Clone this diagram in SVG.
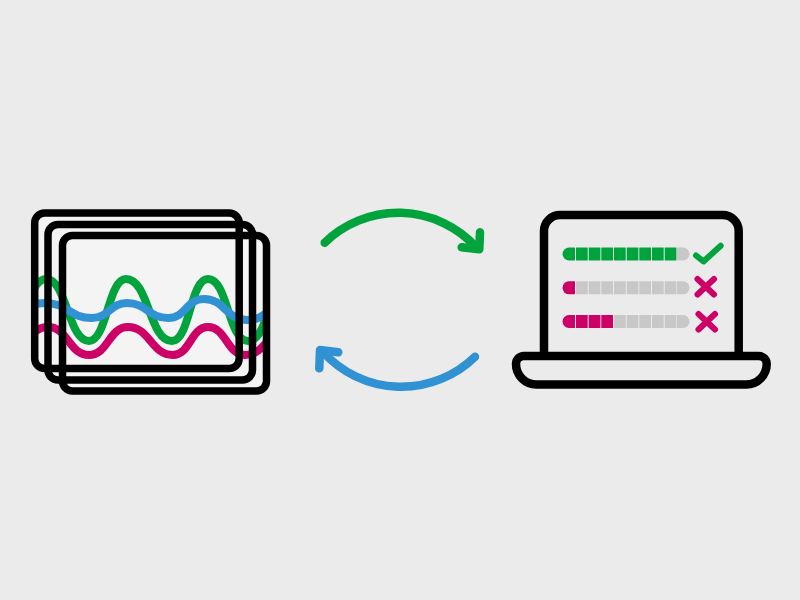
<svg xmlns="http://www.w3.org/2000/svg" width="800" height="600" viewBox="0 0 800 600">
<style>
.frame{fill:none;stroke:#000;stroke-width:7.5}
.panel{fill:#f4f4f4;stroke:none}
.wave{fill:none;stroke-width:8}
.g{stroke:#00a33c}.b{stroke:#3092d3}.m{stroke:#cc0066}
.fg{fill:#00a33c}.fm{fill:#cc0066}.fx{fill:#c8c8c8}
.mark{fill:none;stroke-width:6;stroke-linecap:round;stroke-linejoin:round}
.arrow{fill:none;stroke-width:8.5;stroke-linecap:round;stroke-linejoin:round}
.lap{fill:#ebebeb;stroke:#000;stroke-width:8.5;stroke-linejoin:round}
</style>
<defs>
<clipPath id="wclip"><rect x="38" y="230" width="225" height="150"/></clipPath>
<path id="cL" d="M569 0h6v13h-6a6.5 6.5 0 0 1 0-13z"/>
<path id="cR" d="M677 0h6a6.5 6.5 0 0 1 0 13h-6z"/>
<rect id="s" x="0" y="0" width="11.7" height="13"/>
</defs>
<rect width="800" height="600" fill="#ebebeb"/>
<g id="signals">
<rect class="panel" x="34.7" y="213" width="204.5" height="155.5" rx="10"/>
<rect class="panel" x="48" y="224.5" width="204.5" height="155.5" rx="10"/>
<rect class="panel" x="62.5" y="235.5" width="204" height="155.5" rx="10"/>
<g clip-path="url(#wclip)">
<path class="wave g" d="M5 341C25 341 26 279 46 279C67 279 68 341 89 341C107 341 108 279 126 279C149 279 149 341 172 341C190 341 190 279 208 279C228 279 228 341 248 341C269 341 269 279 290 279"/>
<path class="wave m" d="M5 355C26 355 27 327 48 327C68 327 69 355 89 355C108 355 109 327 128 327C150 327 151 355 173 355C190 355 191 327 208 327C226 327 227 355 245 355C267 355 268 327 290 327"/>
<path class="wave b" d="M0 318C22 318 23 303 45 303C68 303 69 318 92 318C109 318 110 303 127 303C147 303 148 318 168 318C186 318 186 299 204 299C225 299 226 320 247 320C268 320 269 303 290 303"/>
</g>
<rect class="frame" x="34.7" y="213" width="204.5" height="155.5" rx="10"/>
<rect class="frame" x="48" y="224.5" width="204.5" height="155.5" rx="10"/>
<rect class="frame" x="62.5" y="235.5" width="204" height="155.5" rx="10"/>
</g>
<g id="connectors">
<path class="arrow g" d="M324.7 242.7A105.500 105.500 0 0 1 476 247"/>
<path class="arrow g" d="M480 232.300L479.300 249.300L461.700 247.300"/>
<path class="arrow b" d="M475 356.700A105.400 105.400 0 0 1 323 352"/>
<path class="arrow b" d="M319.300 368.300L320 350L338.300 352.300"/>
</g>
<g id="laptop">
<path class="lap" d="M544 356V231a16 16 0 0 1 16-16H722.700a16 16 0 0 1 16 16V356"/>
<path class="lap" d="M524 356H758.700a8 8 0 0 1 8 8A20.400 20.400 0 0 1 746.300 384.400H536.400A20.400 20.400 0 0 1 516 364A8 8 0 0 1 524 356z"/>
<g id="bar1" transform="translate(0 247.500)">
<use href="#cL" class="fg"/>
<g class="fg"><use href="#s" x="576"/><use href="#s" x="588.700"/><use href="#s" x="601.300"/><use href="#s" x="614"/><use href="#s" x="626.700"/><use href="#s" x="639.300"/><use href="#s" x="652"/><use href="#s" x="664.700"/></g>
<use href="#cR" class="fx"/>
</g>
<g id="bar2" transform="translate(0 281.300)">
<use href="#cL" class="fm"/>
<g class="fx"><use href="#s" x="576"/><use href="#s" x="588.700"/><use href="#s" x="601.300"/><use href="#s" x="614"/><use href="#s" x="626.700"/><use href="#s" x="639.300"/><use href="#s" x="652"/><use href="#s" x="664.700"/></g>
<use href="#cR" class="fx"/>
</g>
<g id="bar3" transform="translate(0 315)">
<use href="#cL" class="fm"/>
<g class="fm"><use href="#s" x="576"/><use href="#s" x="588.700"/><use href="#s" x="601.300"/></g>
<g class="fx"><use href="#s" x="614"/><use href="#s" x="626.700"/><use href="#s" x="639.300"/><use href="#s" x="652"/><use href="#s" x="664.700"/></g>
<use href="#cR" class="fx"/>
</g>
<path id="check" class="mark g" d="M696 255.500L703.500 261.500L720.700 245.700"/>
<path id="cross1" class="mark m" d="M697.500 279L714 294.500M714 279L697.500 294.500"/>
<path id="cross2" class="mark m" d="M698.500 314L715 329.500M715 314L698.500 329.500"/>
</g>
</svg>
